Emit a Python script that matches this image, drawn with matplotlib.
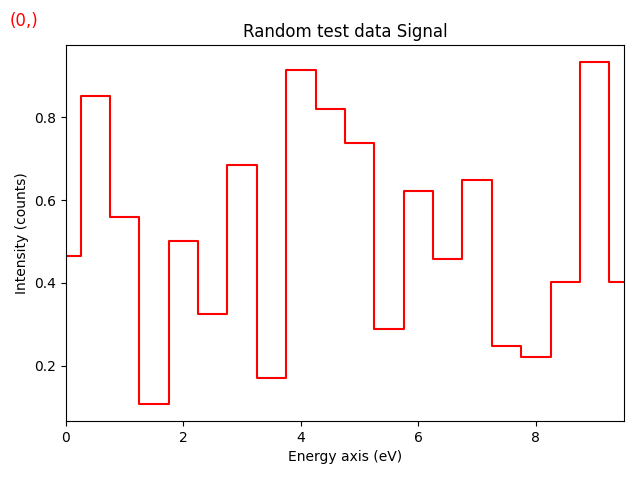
import numpy as np
import matplotlib
matplotlib.use("Agg")
import matplotlib.pyplot as plt

energy = np.arange(20) * 0.5
intensity = [0.465, 0.851, 0.559, 0.108, 0.501, 0.325, 0.684, 0.171, 0.913, 0.819,
             0.737, 0.289, 0.622, 0.458, 0.648, 0.248, 0.222, 0.402, 0.933, 0.402]

fig, ax = plt.subplots(figsize=(6.4, 4.8), dpi=100)
ax.plot(energy, intensity, color="red", drawstyle="steps-mid")
ax.set_xlim(energy[0], energy[-1])
ax.set_title("Random test data Signal")
ax.set_xlabel("Energy axis (eV)")
ax.set_ylabel("Intensity (counts)")
fig.subplots_adjust(left=0.103, right=0.975, top=0.906, bottom=0.123)
fig.text(0.015, 0.956, "(0,)", color="red", fontsize=12, va="center")
fig.savefig("out.png")
